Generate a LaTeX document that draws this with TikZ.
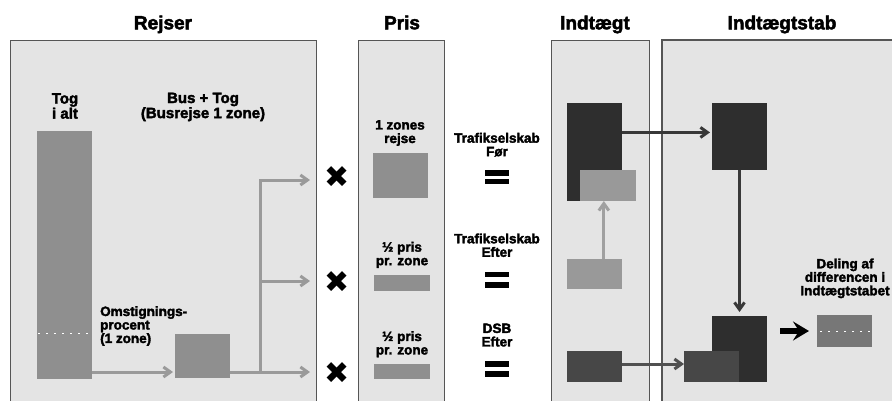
\documentclass[tikz,border=0pt]{standalone}
\usepackage{fontspec}
\setmainfont{Liberation Sans}[BoldFeatures={FakeBold=2.5}]
\newfontfamily\symfont{DejaVu Sans}
\usetikzlibrary{arrows.meta,calc}
\definecolor{panelbg}{HTML}{E4E4E4}
\definecolor{panelln}{HTML}{555555}
\definecolor{bargray}{HTML}{8F8F8F}
\definecolor{arrgray}{HTML}{9A9A9A}
\definecolor{darkbox}{HTML}{2E2E2E}
\definecolor{lightbox}{HTML}{999999}
\definecolor{lightarr}{HTML}{A0A0A0}
\definecolor{dsbbox}{HTML}{474747}
\definecolor{dsbarr}{HTML}{505050}
\definecolor{darkarr}{HTML}{383838}
\definecolor{resbox}{HTML}{777777}
\tikzset{
  panel/.style={fill=panelbg, draw=panelln, line width=0.9pt},
  box/.style={inner sep=0pt, outer sep=0pt, anchor=north west, draw=none},
  hdr/.style={font=\fontsize{19}{19}\selectfont\bfseries, anchor=base, inner sep=0pt},
  lbl/.style={font=\fontsize{13.5}{13.5}\selectfont\bfseries, align=center, inner sep=0pt, anchor=north},
  tightlbl/.style={lbl, font=\fontsize{15}{11.5}\selectfont\bfseries},
  xmark/.style={font=\symfont\fontsize{30}{30}\selectfont, inner sep=0pt},
  tipb/.style={-{Straight Barb[length=7pt,width=10pt]}},
  garrow/.style={draw=arrgray, line width=3pt, line join=miter, tipb},
  darrow/.style={draw=darkarr, line width=3pt, tipb},
  larrow/.style={draw=lightarr, line width=3pt, tipb},
  dsbarrow/.style={draw=dsbarr, line width=3pt, tipb},
  barrow/.style={draw=black, line width=5.5pt, -{Stealth[length=16pt,width=19pt,inset=6pt]}},
  dotw/.style={draw=white, line width=1.5pt, dash pattern=on 2pt off 6pt},
}
\begin{document}
\begin{tikzpicture}[x=1pt,y=-1pt]
\useasboundingbox[fill=white] (0,0) rectangle (892,400);
% panels
\draw[panel] (10,403) -- (10,40) -- (316,40) -- (316,403);
\draw[panel] (358,403) -- (358,40) -- (444,40) -- (444,403);
\draw[panel] (551,403) -- (551,40) -- (649,40) -- (649,403);
\draw[panel, line width=1.4pt] (662,403) -- (662,40) -- (895,40);
\fill[panelbg] (662.7,40.7) rectangle (895,403);
% headers
\node[hdr] (hrejser) at (163,29.3) {Rejser};
\node[hdr] (hpris) at (402,29.3) {Pris};
\node[hdr] (hindt) at (595,29.3) {Indtægt};
\node[hdr] (hindtab) at (782,29.3) {Indtægtstab};
% Rejser
\node[tightlbl] (ltog) at (65,93) {Tog\\i alt};
\node[tightlbl] (lbus) at (203,92.5) {Bus + Tog\\(Busrejse 1 zone)};
\node[box, fill=bargray, minimum width=55pt, minimum height=248pt] (togalt) at (37,131) {};
\node[box, fill=bargray, minimum width=55pt, minimum height=44pt] (sq) at (175,334) {};
\node[lbl, anchor=north west, align=left] (lomst) at (100,306) {Omstignings-\\procent\\(1 zone)};
\draw[dotw] (38,333.3) -- (91,333.3);
\coordinate (split) at (260,372);
\coordinate (e1) at (310,180);
\coordinate (e2) at (310,281);
\coordinate (e3) at (310,372);
\draw[garrow, shorten >=2pt] (togalt.east |- split) -- (sq.west |- split);
\draw[garrow] (sq.east |- split) -- (e3);
\draw[garrow] (split) |- (e1);
\draw[garrow] (split |- e2) -- (e2);
% x marks
\node[xmark] (x1) at (337.5,177) {✖};
\node[xmark] (x2) at (337.5,282) {✖};
\node[xmark] (x3) at (337.5,373) {✖};
% Pris
\node[lbl] (lp1) at (400,120) {1 zones\\rejse};
\node[box, fill=bargray, minimum width=55pt, minimum height=45pt] (p1) at (373,153) {};
\node[lbl] (lp2) at (402,241.7) {½ pris\\pr. zone};
\node[box, fill=bargray, minimum width=56pt, minimum height=16pt] (p2) at (374,275) {};
\node[lbl] (lp3) at (402,331) {½ pris\\pr. zone};
\node[box, fill=bargray, minimum width=56pt, minimum height=15pt] (p3) at (374,364) {};
% equals labels
\node[lbl] (lt1) at (497,132.7) {Trafikselskab\\Før};
\node[lbl] (lt2) at (497,233.3) {Trafikselskab\\Efter};
\node[lbl] (lt3) at (497,323.3) {DSB\\Efter};
\fill (485,170) rectangle (509,175.5);
\fill (485,178.5) rectangle (509,184);
\fill (485,271.7) rectangle (509,277.3);
\fill (485,281.7) rectangle (509,287.5);
\fill (485,361) rectangle (509,366.7);
\fill (485,371) rectangle (509,376.7);
% Indtaegt
\node[box, fill=darkbox, minimum width=55pt, minimum height=98pt] (d1) at (567,103) {};
\node[box, fill=lightbox, minimum width=56pt, minimum height=31pt] (l1) at (580,170) {};
\node[box, fill=lightbox, minimum width=55pt, minimum height=30pt] (l2) at (567,259) {};
\node[box, fill=dsbbox, minimum width=55pt, minimum height=31pt] (dsb1) at (567,351) {};
% Indtaegtstab
\node[box, fill=darkbox, minimum width=55pt, minimum height=67pt] (d2) at (712,103) {};
\node[box, fill=darkbox, minimum width=55pt, minimum height=66pt] (d3) at (712,316) {};
\node[box, fill=dsbbox, minimum width=55pt, minimum height=31pt] (dsb2) at (684,351) {};
\node[box, fill=resbox, minimum width=55pt, minimum height=32pt] (res) at (817,315) {};
\draw[dotw] (820,331.7) -- (872,331.7);
\node[lbl] (ldel) at (845,258.3) {Deling af\\differencen i\\Indtægtstabet};
% connectors
\coordinate (a1) at ($(d1.north east)!0.3!(d1.south east)$);
\draw[darrow, shorten >=2pt] (a1) -- (d2.west |- a1);
\draw[darrow, shorten >=4pt] (d2.south) -- (d3.north);
\coordinate (a2) at ($(l2.north west)!0.67!(l2.north east)$);
\draw[larrow] (a2) -- (l1.south -| a2);
\coordinate (a3) at ($(dsb1.north east)!0.42!(dsb1.south east)$);
\draw[dsbarrow] (a3) -- (dsb2.west |- a3);
\draw[barrow, shorten <=13pt, shorten >=8pt] (d3.east |- res.west) -- (res.west);
\end{tikzpicture}
\end{document}
